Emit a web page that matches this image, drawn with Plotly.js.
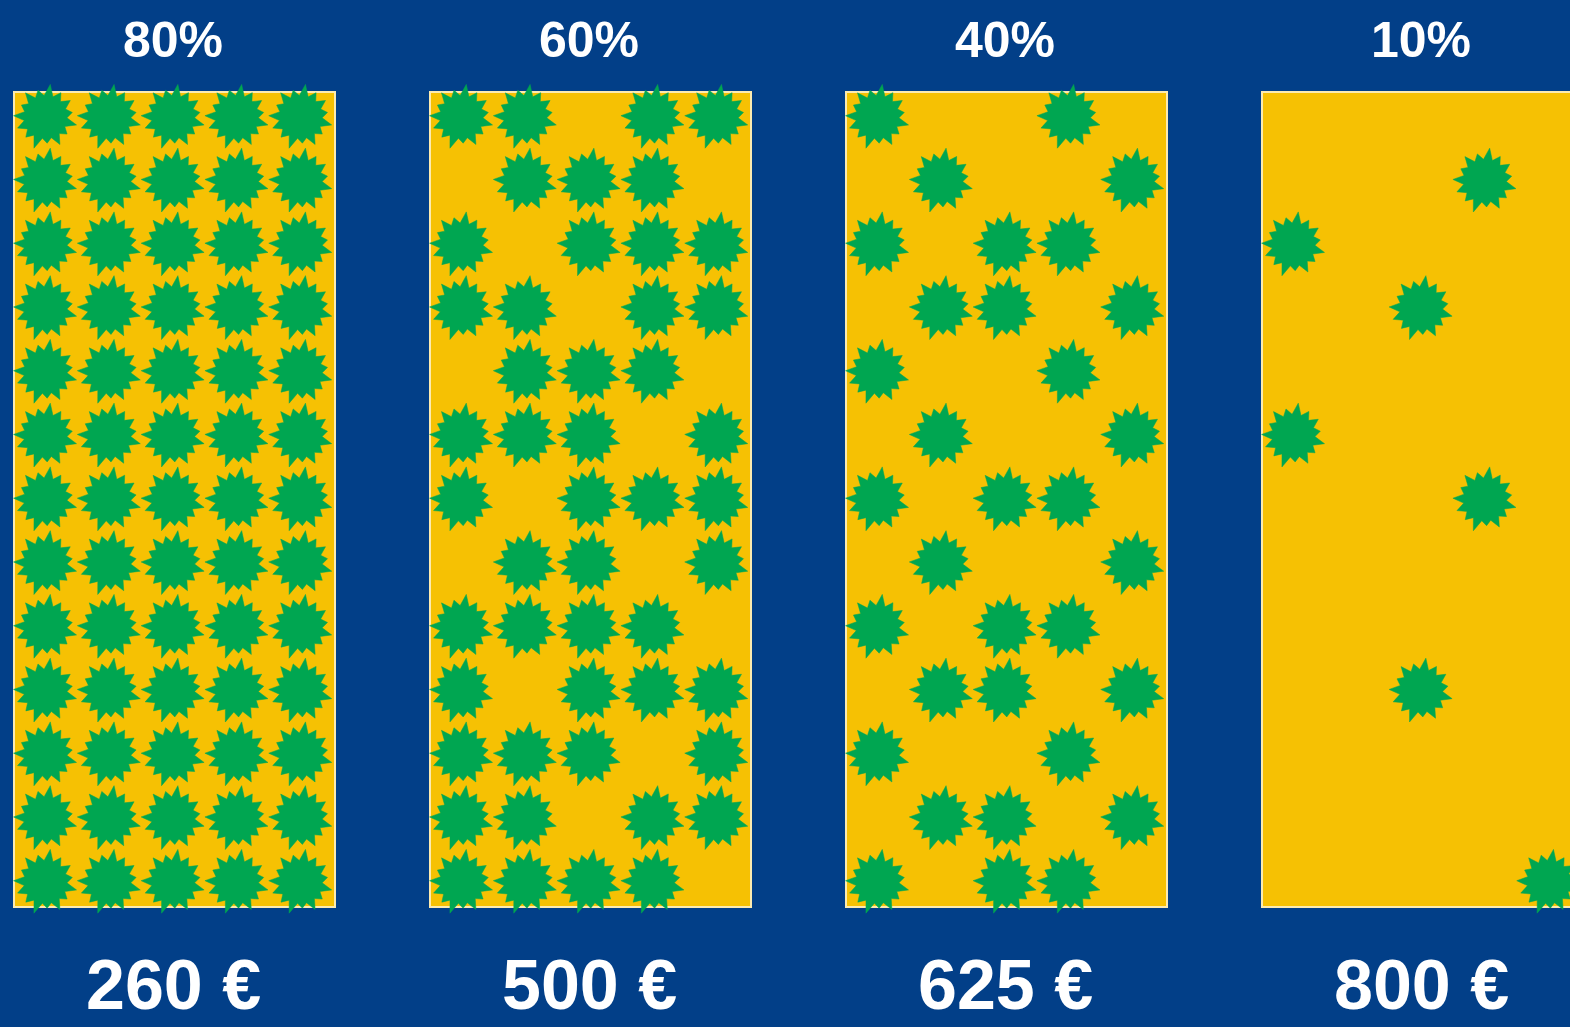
<!DOCTYPE html>
<html>
<head>
<meta charset="utf-8">
<script src="https://cdn.plot.ly/plotly-3.0.1.min.js"></script>
<style>html,body{margin:0;padding:0;background:#023F88;overflow:hidden}</style>
</head>
<body>
<div id="chart" style="width:1570px;height:1027px"></div>
<script>
// ---- data ----
const shareLabels = ['80%', '60%', '40%', '10%'];
const priceLabels = ['260 €', '500 €', '625 €', '800 €'];
// grid of 13 rows x 5 columns per panel, 1 = star present
const panel1 = ['11111','11111','11111','11111','11111','11111','11111','11111','11111','11111','11111','11111','11111'];
const panel2 = ['11011','01110','10111','11011','01110','11101','10111','01101','11110','10111','11101','11011','11110'];
const panel3 = ['10010','01001','10110','01101','10010','01001','10110','01001','10110','01101','10010','01101','10110'];
const panel4 = ['00000','00010','10000','00100','00000','10000','00010','00000','00000','00100','00000','00000','00001'];
const panels = [panel1, panel2, panel3, panel4];

// ---- layout constants (pixels) ----
const W = 1570, H = 1027;
const ppu = 63.8;                 // pixels per column
const rowTop = 117, rowStep = 63.75;
const panelLeft = [14, 430, 846, 1262];
const rectW = 321, colOffset = 31.5, pad = 40;
const rectTop = 92, rectBottom = 907;
const NAVY = '#023F88', YELLOW = '#F6C103', GREEN = '#00A651';

// star shape (style)
const spikeFactors = [1.0, 0.86, 0.97, 0.82, 1.04, 0.88, 0.94, 1.0, 0.84, 0.98, 0.87, 1.03, 0.9, 0.93, 0.85];
const rOut = 32 / ppu, rIn = 21.5 / ppu;
function starOutline(cx, cy) {
  const xs = [], ys = [];
  const n = spikeFactors.length;
  for (let k = 0; k < 2 * n; k++) {
    const a = Math.PI * k / n + 0.25;
    const r = (k % 2 === 0) ? rOut * spikeFactors[k / 2] : rIn;
    xs.push(cx + r * Math.cos(a));
    ys.push(cy + r * Math.sin(a) * (ppu / rowStep));
  }
  xs.push(xs[0]); ys.push(ys[0]);
  return [xs, ys];
}

const traces = [];
const shapes = [];
const annotations = [];
const layout = {
  width: W, height: H,
  margin: {l: 0, r: 0, t: 0, b: 0},
  paper_bgcolor: NAVY, plot_bgcolor: NAVY,
  showlegend: false,
  yaxis: {domain: [0, 1], range: [(H - rowTop) / rowStep, -rowTop / rowStep], visible: false, fixedrange: true},
  shapes: shapes, annotations: annotations
};

panels.forEach((grid, i) => {
  const ax = i === 0 ? 'x' : 'x' + (i + 1);
  const axKey = i === 0 ? 'xaxis' : 'xaxis' + (i + 1);
  const L = panelLeft[i];
  const d0 = Math.max(0, L - pad), d1 = Math.min(W, L + rectW + pad);
  layout[axKey] = {
    domain: [d0 / W, d1 / W],
    range: [(d0 - L - colOffset) / ppu, (d1 - L - colOffset) / ppu],
    visible: false, fixedrange: true, anchor: 'y'
  };
  shapes.push({
    type: 'rect', xref: ax, yref: 'y', layer: 'below',
    x0: -colOffset / ppu, x1: (rectW - colOffset) / ppu,
    y0: (rectTop - rowTop) / rowStep, y1: (rectBottom - rowTop) / rowStep,
    fillcolor: YELLOW, line: {color: '#FCEBB0', width: 2}
  });
  const xs = [], ys = [];
  grid.forEach((row, r) => {
    row.split('').forEach((c, col) => {
      if (c === '1') {
        const [sx, sy] = starOutline(col, r);
        xs.push(...sx, null); ys.push(...sy, null);
      }
    });
  });
  traces.push({
    type: 'scatter', mode: 'lines', x: xs, y: ys, xaxis: ax, yaxis: 'y',
    fill: 'toself', fillcolor: GREEN, line: {color: GREEN, width: 0.5},
    hoverinfo: 'skip', connectgaps: false
  });
  annotations.push({
    xref: ax, yref: 'paper', x: 2, y: 1 - 40 / H, xanchor: 'center', yanchor: 'middle',
    text: shareLabels[i], showarrow: false,
    font: {family: 'Liberation Sans, Arial, sans-serif', size: 50, color: '#FFFFFF', weight: 'bold'}
  });
  annotations.push({
    xref: ax, yref: 'paper', x: 2, y: 1 - 985 / H, xanchor: 'center', yanchor: 'middle',
    text: priceLabels[i], showarrow: false,
    font: {family: 'Liberation Sans, Arial, sans-serif', size: 70, color: '#FFFFFF', weight: 'bold'}
  });
});

Plotly.newPlot('chart', traces, layout, {displayModeBar: false, staticPlot: true});
</script>
</body>
</html>
